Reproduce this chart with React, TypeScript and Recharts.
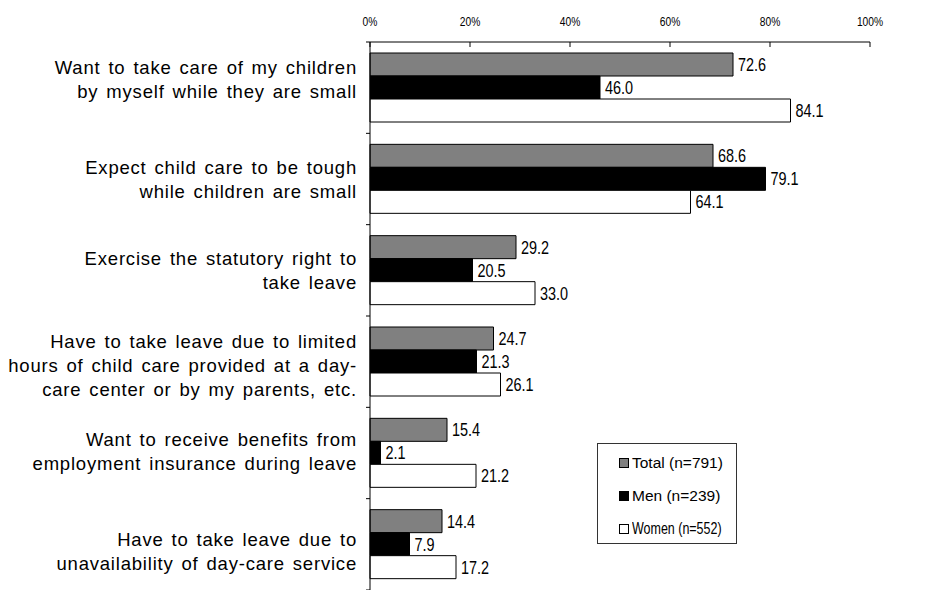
import React from "react";
import {
    BarChart,
    Bar,
    XAxis,
    YAxis,
    Legend,
    LabelList
} from 'recharts';

// survey answers, one entry per reason (label lines as drawn)
const reasons = [
    ['Want to take care of my children', 'by myself while they are small'],
    ['Expect child care to be tough', 'while children are small'],
    ['Exercise the statutory right to', 'take leave'],
    ['Have to take leave due to limited', 'hours of child care provided at a day-', 'care center or by my parents, etc.'],
    ['Want to receive benefits from', 'employment insurance during leave'],
    ['Have to take leave due to', 'unavailability of day-care service']
]

const totalPct = [72.6, 68.6, 29.2, 24.7, 15.4, 14.4]
const menPct = [46.0, 79.1, 20.5, 21.3, 2.1, 7.9]
const womenPct = [84.1, 64.1, 33.0, 26.1, 21.2, 17.2]

const pctTicks = [0, 20, 40, 60, 80, 100]
const seriesOrder = ['total', 'men', 'women']

const chartData = reasons.map((lines, i) => ({
    reason: lines.join('\n'),
    total: totalPct[i],
    men: menPct[i],
    women: womenPct[i]
}))

// small vertical nudges for the wrapped reason labels
const labelNudge = [-8, 0, 0, 4, -2, 7]

const ARIAL = "'Liberation Sans', Arial, sans-serif"

// Arial squeezed horizontally, stands in for a narrow face
const NarrowText = ({ x, y, size, scale, anchor, children }: any) => (
    <text
        transform={`translate(${x},${y}) scale(${scale},1)`}
        textAnchor={anchor}
        fontFamily={ARIAL}
        fontSize={size}
        fill="#000"
    >
        {children}
    </text>
)

const PctTick = (props: any) => {
    const { x, y, payload } = props
    return <NarrowText x={x} y={y} size={13.5} scale={0.76} anchor="middle">{`${payload.value}%`}</NarrowText>
}

const ReasonTick = (props: any) => {
    const { x, y, payload, index, visibleTicksCount } = props
    const lines: string[] = String(payload.value).split('\n')
    const lineH = 24
    const half = payload.offset || 0
    const first = y - ((lines.length - 1) * lineH) / 2 + 6.6 + (labelNudge[index] || 0)
    const tx = x - 13
    return (
        <g>
            <line x1={x - 4} x2={x} y1={y - half} y2={y - half} stroke="#000" />
            {index === visibleTicksCount - 1 &&
                <line x1={x - 4} x2={x} y1={y + half} y2={y + half} stroke="#000" />}
            <text
                x={tx}
                y={first}
                textAnchor="end"
                fill="#000"
                fontFamily={ARIAL}
                fontSize={18.5}
                letterSpacing={0.8}
                wordSpacing={2}
            >
                {lines.map((line, i) => (
                    <tspan key={i} x={tx} y={first + i * lineH}>{line}</tspan>
                ))}
            </text>
        </g>
    )
}

const renderLegend = (props: any) => {
    const items = seriesOrder
        .map(k => (props.payload || []).find((e: any) => e.dataKey === k))
        .filter(Boolean)
    return (
        <div style={{
            width: 140,
            height: 101,
            boxSizing: 'border-box',
            border: '1px solid #333',
            background: '#fff',
            paddingTop: 2,
            paddingLeft: 21
        }}>
            {items.map((entry: any, i: number) => (
                <div key={i} style={{ height: 33, display: 'flex', alignItems: 'center' }}>
                    <svg width={10} height={10} style={{ marginRight: 3, flexShrink: 0 }}>
                        <rect x={0.5} y={0.5} width={9} height={9} fill={entry.color} stroke="#000" />
                    </svg>
                    <span style={{
                        fontFamily: ARIAL,
                        fontSize: i === 2 ? 16 : 15.5,
                        color: '#000',
                        whiteSpace: 'nowrap',
                        display: 'inline-block',
                        transform: i === 2 ? 'scaleX(0.78)' : 'none',
                        transformOrigin: 'left center'
                    }}>{entry.value}</span>
                </div>
            ))}
        </div>
    )
}

const ValueLabel = (props: any) => {
    const { x, y, width, height, value } = props
    return (
        <NarrowText x={x + width + 5} y={y + height / 2 + 6.6} size={18.5} scale={0.78} anchor="start">
            {Number(value).toFixed(1)}
        </NarrowText>
    )
}

const App = () => {
    return (
        <div style={{ position: 'absolute', left: 0, top: 0, background: '#fff' }}>
            <BarChart
                width={942}
                height={590}
                layout="vertical"
                data={chartData}
                margin={{ top: 0, right: 72, bottom: 0, left: 0 }}
                barSize={23}
                barGap={0}
            >
                <XAxis
                    type="number"
                    orientation="top"
                    domain={[0, 100]}
                    ticks={pctTicks}
                    height={42}
                    tickSize={-5}
                    tickMargin={21}
                    stroke="#000"
                    tick={<PctTick />}
                    interval={0}
                />
                <YAxis
                    type="category"
                    dataKey="reason"
                    width={370}
                    tickLine={false}
                    tickSize={0}
                    tickMargin={0}
                    axisLine={{ stroke: '#000' }}
                    tick={<ReasonTick />}
                    interval={0}
                />
                <Legend
                    layout="vertical"
                    align="center"
                    verticalAlign="middle"
                    content={renderLegend}
                    wrapperStyle={{ left: 597, top: 443, width: 140, height: 101 }}
                />
                <Bar dataKey="total" name="Total (n=791)" fill="#808080" stroke="#000" strokeWidth={1} isAnimationActive={false}>
                    <LabelList dataKey="total" content={<ValueLabel />} />
                </Bar>
                <Bar dataKey="men" name="Men (n=239)" fill="#000" stroke="#000" strokeWidth={1} isAnimationActive={false}>
                    <LabelList dataKey="men" content={<ValueLabel />} />
                </Bar>
                <Bar dataKey="women" name="Women (n=552)" fill="#fff" stroke="#000" strokeWidth={1} isAnimationActive={false}>
                    <LabelList dataKey="women" content={<ValueLabel />} />
                </Bar>
            </BarChart>
        </div>
    )
}

export default App
